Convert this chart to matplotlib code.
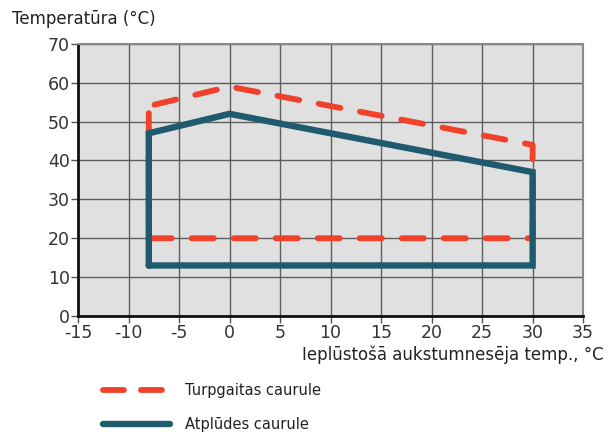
import matplotlib
matplotlib.use("Agg")
import matplotlib.pyplot as plt

# operating envelope, outside temperature vs pipe temperature
supply_x = [-8, 0, 30, 30, -8, -8]
supply_y = [54, 59, 44, 20, 20, 54]
return_x = [-8, -8, 0, 30, 30, -8]
return_y = [13, 47, 52, 37, 13, 13]

x_ticks = list(range(-15, 40, 5))
y_ticks = list(range(0, 80, 10))

RED = "#f0412a"
BLUE = "#1f5a6e"
TEXT = "#222222"

plt.rcParams['font.family'] = ['DejaVu Sans']

fig = plt.figure(figsize=(6.1, 4.32), dpi=100)
ax = fig.add_axes([0.128, 0.2685, 0.828, 0.63])
ax.set_facecolor("#e0e0e0")

red_line, = ax.plot(supply_x, supply_y, color=RED, lw=4.2,
                    solid_capstyle="round", dash_capstyle="round",
                    dash_joinstyle="round", label="Turpgaitas caurule", zorder=3)
red_line.set_linestyle((-1.0, (3.8, 3.4)))
ax.plot(return_x, return_y, color=BLUE, lw=4.6, solid_joinstyle="miter",
        solid_capstyle="round", label="Atplūdes caurule", zorder=4)

ax.set_xlim(-15, 35)
ax.set_ylim(0, 70)
ax.set_xticks(x_ticks)
ax.set_yticks(y_ticks)
ax.set_xticklabels([str(v) for v in x_ticks])
ax.grid(True, color="#5e5e5e", lw=1.0, zorder=1)
ax.set_axisbelow(True)

for side in ("left", "bottom"):
    ax.spines[side].set_color("#111111")
    ax.spines[side].set_linewidth(2.0)
for side in ("top", "right"):
    ax.spines[side].set_color("#8a8a8a")
    ax.spines[side].set_linewidth(1.5)

ax.tick_params(axis="both", labelsize=12.5, colors="#555555",
               labelcolor="#333333", length=5, width=1, pad=1)

fig.text(0.02, 0.955, "Temperatūra (°C)", fontsize=12, color=TEXT,
         ha="left", va="center")
fig.text(0.99, 0.178, "Ieplūstošā aukstumnesēja temp., °C", fontsize=12,
         color=TEXT, ha="right", va="center")

leg = ax.legend(loc="upper left", bbox_to_anchor=(0.157, 0.131),
                bbox_transform=fig.transFigure, frameon=False,
                fontsize=10.5, handlelength=4.6, handletextpad=1.0,
                labelspacing=1.3, borderpad=0)
for t in leg.get_texts():
    t.set_color(TEXT)
# two dashes in the key sample
leg.legend_handles[0].set_linestyle((0, (3.6, 2.9)))

fig.savefig("out.png", dpi=100)
